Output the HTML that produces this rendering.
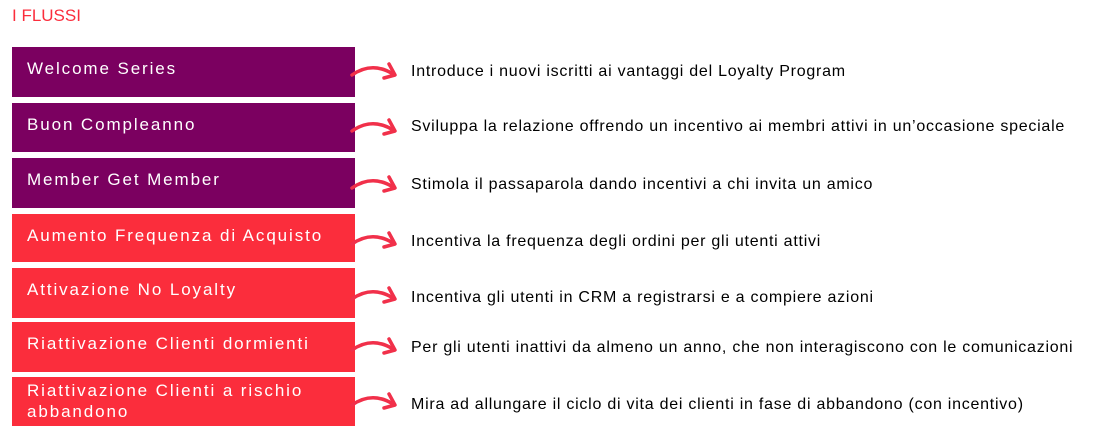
<!DOCTYPE html>
<html><head><meta charset="utf-8"><style>
body{margin:0;width:1102px;height:448px;background:#fff;position:relative;overflow:hidden;font-family:"Liberation Sans",sans-serif}
.t{position:absolute;left:12px;top:6px;color:#fb2d3c;font-size:17px}
.b{position:absolute;left:12px;width:343px;color:#fff;font-size:17px;letter-spacing:1.9px;box-sizing:border-box;padding-left:15px;line-height:21px;white-space:nowrap}
.p{background:#7b0060}.r{background:#fb2d3c}
.d{position:absolute;left:411px;font-size:16px;letter-spacing:0.75px;color:#000;white-space:nowrap}
</style></head><body>
<div class="t">I FLUSSI</div>
<div class="b p" style="top:47px;height:50px;padding-top:11px">Welcome Series</div>
<div class="b p" style="top:103px;height:49px;padding-top:11px">Buon Compleanno</div>
<div class="b p" style="top:158px;height:50px;padding-top:11px">Member Get Member</div>
<div class="b r" style="top:214px;height:48px;padding-top:11px">Aumento Frequenza di Acquisto</div>
<div class="b r" style="top:268px;height:50px;padding-top:11px">Attivazione No Loyalty</div>
<div class="b r" style="top:322px;height:50px;padding-top:11px">Riattivazione Clienti dormienti</div>
<div class="b r" style="top:377px;height:49px;padding-top:3px">Riattivazione Clienti a rischio<br>abbandono</div>
<div class="d" style="top:63px">Introduce i nuovi iscritti ai vantaggi del Loyalty Program</div>
<div class="d" style="top:118px">Sviluppa la relazione offrendo un incentivo ai membri attivi in un’occasione speciale</div>
<div class="d" style="top:176px">Stimola il passaparola dando incentivi a chi invita un amico</div>
<div class="d" style="top:233px">Incentiva la frequenza degli ordini per gli utenti attivi</div>
<div class="d" style="top:289px">Incentiva gli utenti in CRM a registrarsi e a compiere azioni</div>
<div class="d" style="top:339px">Per gli utenti inattivi da almeno un anno, che non interagiscono con le comunicazioni</div>
<div class="d" style="top:396px">Mira ad allungare il ciclo di vita dei clienti in fase di abbandono (con incentivo)</div>
<svg width="1102" height="448" style="position:absolute;left:0;top:0" fill="none" stroke="#f1304a" stroke-width="3.5" stroke-linecap="round" stroke-linejoin="round">
<g id="a" transform="translate(0,47)"><path d="M352 28 Q372 14 393 27"/><path d="M389 17 L395 28 L384 31"/></g>
<use href="#a" y="56"/><use href="#a" y="113"/><use href="#a" y="169"/><use href="#a" y="224"/><use href="#a" y="275"/><use href="#a" y="330"/>
</svg>
</body></html>
